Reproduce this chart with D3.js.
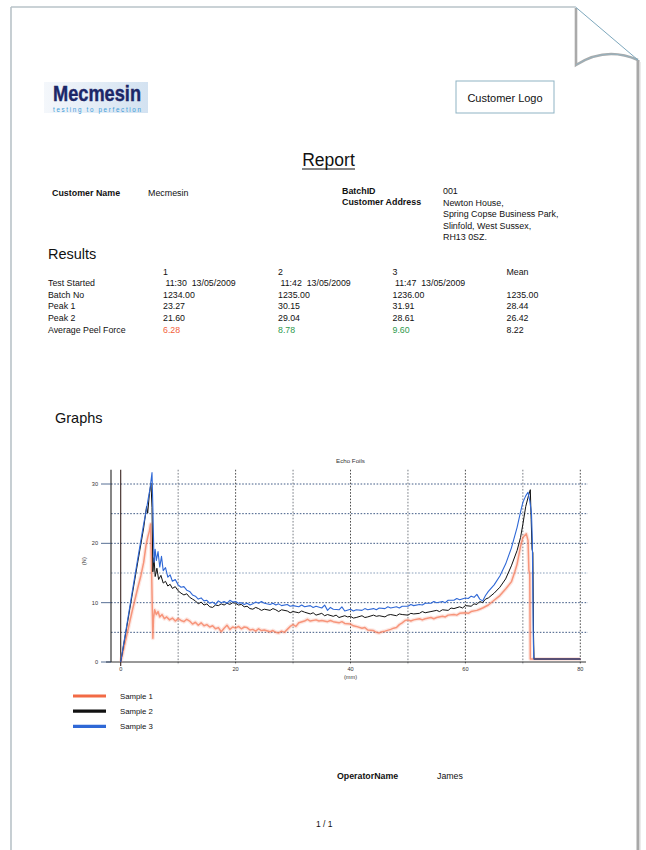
<!DOCTYPE html>
<html><head><meta charset="utf-8">
<script src="https://cdn.jsdelivr.net/npm/d3@7"></script>
<style>body{margin:0;background:#fff}svg{display:block}text{font-family:"Liberation Sans",Arial,Helvetica,sans-serif}</style>
</head><body>
<script>
// ---------- DATA ----------
const chartTitle = "Echo Foils";
const xTicks = [0, 20, 40, 60, 80];
const xGrid = [10, 20, 30, 40, 50, 60, 70, 80];
const yTicks = [0, 10, 20, 30];
const yGrid = [5, 10, 15, 20, 25, 30];
const seriesNames = ["Sample 1", "Sample 2", "Sample 3"];
const seriesColors = ["#f26a45", "#111111", "#2f68d6"];

const sample1 = [[0,0],[1,4.3],[2,8.6],[3,12.6],[3.5,14.5],[4,16.8],[4.4,19.6],[4.7,21.0],[5.0,22.1],[5.2,23.27],[5.35,17],[5.5,9],[5.6,4.0],[5.7,7.2],[5.9,8.8],[6.2,8.0],[6.5,8.5],[6.8,7.6],[7.2,8.0],[7.6,7.3],[8,7.6],[8.5,7.1],[9,7.4],[9.5,6.9],[10,7.3],[10.5,7.0],[11,6.8],[11.5,7.2],[12,6.9],[12.5,6.4],[13,6.7],[13.5,6.2],[14,6.6],[14.5,6.1],[15,6.3],[15.5,5.9],[16,6.1],[16.5,5.6],[17,5.8],[17.5,5.1],[18,5.7],[18.5,6.2],[19,5.5],[19.5,5.9],[20,5.7],[20.5,6.0],[21,5.6],[21.5,5.9],[22,5.8],[22.5,5.4],[23,5.5],[23.5,5.2],[24,5.6],[24.5,5.3],[25,5.4],[26,5.1],[26.5,5.3],[27,5.0],[27.5,4.9],[28,5.2],[28.5,5.0],[29,5.5],[29.5,6.0],[30,6.3],[30.5,6.0],[31,6.6],[32,6.9],[32.5,7.2],[33,6.9],[34,7.1],[34.5,6.9],[35,7.0],[36,6.8],[36.5,7.0],[37,6.8],[38,6.6],[38.5,6.8],[39,6.5],[40,6.4],[40.5,6.1],[41,6.0],[42,5.7],[42.5,5.8],[43,5.4],[44,5.3],[44.5,5.0],[45,4.9],[45.5,5.1],[46,5.2],[47,5.5],[47.5,5.7],[48,5.8],[48.5,6.3],[49,6.6],[49.5,7.0],[50,7.1],[50.5,6.9],[51,7.1],[52,7.3],[52.5,7.1],[53,7.3],[54,7.5],[54.5,7.3],[55,7.5],[56,7.7],[56.5,7.6],[57,7.9],[58,8.0],[58.5,7.9],[59,8.2],[60,8.3],[60.5,8.2],[61,8.5],[62,8.7],[62.5,8.9],[63,9.1],[64,9.6],[65,10.4],[66,11.2],[67,12.3],[68,13.5],[68.6,15.2],[69,16.5],[69.6,19.5],[70,21.0],[70.6,21.6],[70.9,20.5],[71.05,15.5],[71.2,14.8],[71.3,0.5],[80,0.5]];

const sample2 = [[0,0],[1,5.6],[2,11.3],[3,17.0],[4,22.6],[4.5,26.2],[4.7,25.1],[5.0,28.4],[5.27,30.15],[5.45,26],[5.6,15.2],[5.8,17.6],[6.0,14.4],[6.3,15.8],[6.6,13.9],[7.0,14.6],[7.4,13.3],[7.8,13.6],[8.2,12.8],[8.6,13.1],[9,12.4],[9.5,12.7],[10,12.0],[10.5,11.6],[11,11.3],[11.5,11.5],[12,10.9],[12.5,10.6],[13,10.3],[13.5,9.8],[14,10.1],[14.5,9.6],[15,9.8],[15.5,9.3],[16,9.2],[16.5,9.6],[17,9.5],[17.5,9.8],[18,9.6],[18.5,9.9],[19,9.7],[19.5,10.0],[20,9.9],[20.5,9.6],[21,9.7],[21.5,9.3],[22,9.4],[22.5,9.0],[23,8.9],[23.5,9.2],[24,9.0],[24.5,8.7],[25,8.9],[26,8.7],[26.5,9.0],[27,8.8],[27.5,8.5],[28,8.8],[29,8.6],[29.5,8.3],[30,8.5],[31,8.3],[31.5,8.6],[32,8.4],[33,8.1],[33.5,8.3],[34,7.9],[35,8.2],[35.5,7.8],[36,8.0],[37,7.7],[37.5,7.9],[38,7.5],[39,7.8],[39.5,7.6],[40,7.7],[40.5,7.4],[41,7.5],[42,7.8],[42.5,7.5],[43,7.6],[44,7.9],[44.5,7.7],[45,7.8],[46,7.6],[46.5,7.9],[47,8.0],[48,7.8],[48.5,8.1],[49,8.0],[50,7.9],[50.5,8.2],[51,8.1],[52,8.2],[52.5,8.5],[53,8.3],[54,8.5],[55,8.7],[55.5,8.5],[56,8.8],[57,8.7],[57.5,9.1],[58,9.0],[59,9.3],[59.5,9.1],[60,9.5],[61,9.4],[61.5,9.8],[62,9.7],[62.5,10.2],[63,10.0],[63.5,10.6],[64,10.8],[65,11.6],[66,12.6],[67,14.0],[68,16.2],[69,18.8],[69.6,21],[70,23.2],[70.5,26.2],[71.0,28.1],[71.3,29.04],[71.45,24],[71.6,19.0],[71.75,18.4],[71.85,5],[71.95,0.5],[80,0.5]];

const sample3 = [[0,0],[1,5.9],[2,11.8],[3,17.6],[4,23.3],[4.5,25.8],[4.8,27.6],[5.1,29.2],[5.45,31.91],[5.6,26],[5.8,16.8],[6.0,19.0],[6.2,17.1],[6.5,18.6],[6.8,16.0],[7.1,17.8],[7.4,15.4],[7.8,15.9],[8.2,14.3],[8.6,14.7],[9,13.6],[9.5,13.9],[10,13.0],[10.5,12.6],[11,12.7],[11.5,12.1],[12,11.9],[12.5,11.3],[13,11.1],[13.5,10.6],[14,10.8],[14.5,10.3],[15,10.4],[15.5,9.9],[16,10.1],[16.5,9.7],[17,10.3],[17.5,10.0],[18,10.2],[18.5,9.9],[19,10.4],[19.5,10.1],[20,10.2],[20.5,9.9],[21,10.0],[21.5,9.7],[22,9.9],[22.5,9.6],[23,9.8],[23.5,10.1],[24,9.9],[24.5,10.2],[25,9.9],[26,9.7],[26.5,9.9],[27,9.6],[27.5,9.8],[28,9.5],[29,9.7],[29.5,9.4],[30,9.5],[31,9.3],[31.5,9.6],[32,9.3],[33,9.5],[33.5,9.2],[34,9.4],[35,9.1],[35.5,9.6],[36,8.7],[36.5,9.2],[37,8.9],[38,8.8],[38.5,9.3],[39,8.6],[40,8.9],[40.5,8.6],[41,8.8],[42,8.7],[42.5,9.0],[43,8.8],[44,9.0],[44.5,8.8],[45,9.1],[46,9.0],[46.5,9.3],[47,9.1],[48,9.3],[48.5,9.1],[49,9.4],[50,9.4],[50.5,9.7],[51,9.5],[52,9.7],[52.5,9.6],[53,9.9],[54,9.9],[54.5,10.2],[55,10.0],[56,10.2],[56.5,10.0],[57,10.4],[58,10.4],[58.5,10.7],[59,10.5],[60,10.8],[60.5,10.7],[61,11.1],[61.5,10.9],[62,11.4],[62.5,10.6],[63,10.3],[63.5,11.2],[64,11.9],[65,13.0],[66,14.5],[67,16.5],[68,19.2],[69,22.7],[69.6,25.3],[70,26.9],[70.5,28.0],[70.9,28.61],[71.2,27.2],[71.5,25.1],[71.65,20.5],[71.8,5],[71.9,0.5],[80,0.5]];

// Results table
const resultCols = ["1", "2", "3", "Mean"];
const rowLabels = ["Test Started", "Batch No", "Peak 1", "Peak 2", "Average Peel Force"];
const testStarted = [" 11:30  13/05/2009", " 11:42  13/05/2009", " 11:47  13/05/2009", ""];
const batchNo = ["1234.00", "1235.00", "1236.00", "1235.00"];
const peak1 = ["23.27", "30.15", "31.91", "28.44"];
const peak2 = ["21.60", "29.04", "28.61", "26.42"];
const avgPeel = ["6.28", "8.78", "9.60", "8.22"];
const avgPeelColors = ["#f2623c", "#2e9a4e", "#2e9a4e", "#111"];
const addressLines = ["Newton House,", "Spring Copse Business Park,", "Slinfold, West Sussex,", "RH13 0SZ."];

// ---------- DRAW ----------
const W = 646, H = 850;
const svg = d3.select("body").append("svg").attr("width", W).attr("height", H);

// page
const defs = svg.append("defs");
const lg = defs.append("linearGradient").attr("id","logoGrad").attr("x1","0").attr("x2","1").attr("y1","0").attr("y2","0");
lg.append("stop").attr("offset","0").attr("stop-color","#f4f7fb");
lg.append("stop").attr("offset","1").attr("stop-color","#d3e2f1");
svg.append("path").attr("d","M11,7 L575.5,7 M11,7 L11,850").attr("stroke","#b9c3c9").attr("stroke-width",1.6).attr("fill","none");
svg.append("path").attr("d","M638,60 L638,850").attr("stroke","#a8a8a8").attr("stroke-width",3).attr("fill","none");
svg.append("path").attr("d","M640,62 L640,850").attr("stroke","#dddddd").attr("stroke-width",1.2).attr("fill","none");
// folded corner
svg.append("path").attr("d","M576,7 L638,60 Q610,46 577,65 Z").attr("fill","#fff").attr("stroke","none");
svg.append("path").attr("d","M576,8 L576,65 Q606,46 638,60").attr("stroke","#aaaaaa").attr("stroke-width",2.6).attr("fill","none");
svg.append("path").attr("d","M576,65 Q606,46 638,60").attr("stroke","#8fb4c4").attr("stroke-width",0.8).attr("fill","none");
svg.append("path").attr("d","M575.5,7 L638,60").attr("stroke","#7ea8bd").attr("stroke-width",1).attr("fill","none");

// Logo
svg.append("rect").attr("x",44).attr("y",82).attr("width",104).attr("height",31).attr("fill","url(#logoGrad)");
svg.append("text").attr("x",53).attr("y",101).attr("font-size",21.5).attr("font-weight","bold")
  .attr("font-family",'"Liberation Sans Narrow","Arial Narrow","Liberation Sans",Arial,sans-serif')
  .attr("textLength",88).attr("lengthAdjust","spacingAndGlyphs").attr("fill","#1c2768")
  .attr("stroke","#1c2768").attr("stroke-width",0.4).text("Mecmesin");
svg.append("text").attr("x",53).attr("y",112).attr("font-size",6.3).attr("textLength",88).attr("lengthAdjust","spacing")
  .attr("fill","#3a9bd8").text("testing to perfection");

// Customer logo box
svg.append("rect").attr("x",456).attr("y",81).attr("width",98).attr("height",32).attr("fill","#fff").attr("stroke","#8fb3c4").attr("stroke-width",1);
svg.append("text").attr("x",505).attr("y",102).attr("text-anchor","middle").attr("font-size",11).attr("fill","#111").text("Customer Logo");

// Report title
svg.append("text").attr("x",328.5).attr("y",166).attr("text-anchor","middle").attr("font-size",17.5).attr("fill","#111").text("Report");
svg.append("line").attr("x1",302).attr("x2",355).attr("y1",169).attr("y2",169).attr("stroke","#111").attr("stroke-width",1.1);

// Header info
const hdr = svg.append("g").attr("font-size",8.9).attr("fill","#111");
hdr.append("text").attr("x",52).attr("y",196).attr("font-weight","bold").text("Customer Name");
hdr.append("text").attr("x",148).attr("y",196).text("Mecmesin");
hdr.append("text").attr("x",342).attr("y",193.5).attr("font-weight","bold").text("BatchID");
hdr.append("text").attr("x",443).attr("y",193.5).text("001");
hdr.append("text").attr("x",342).attr("y",205).attr("font-weight","bold").text("Customer Address");
addressLines.forEach((t,i)=>hdr.append("text").attr("x",443).attr("y",205.5+i*11.5).text(t));

// Results
svg.append("text").attr("x",48).attr("y",259).attr("font-size",14.5).attr("fill","#111").text("Results");
const tbl = svg.append("g").attr("font-size",8.8).attr("fill","#111");
const colX = [163, 278, 392.5, 506.5];
const rowY0 = 274.5, rowH = 11.6;
resultCols.forEach((c,i)=>tbl.append("text").attr("x",colX[i]).attr("y",rowY0).text(c));
rowLabels.forEach((r,i)=>tbl.append("text").attr("x",48).attr("y",rowY0+(i+1)*rowH).text(r));
const rows = [testStarted, batchNo, peak1, peak2, avgPeel];
rows.forEach((vals,ri)=>{
  vals.forEach((v,ci)=>{
    const t = tbl.append("text").attr("x",colX[ci]).attr("y",rowY0+(ri+1)*rowH).attr("xml:space","preserve").style("white-space","pre").text(v);
    if (ri===4) t.attr("fill",avgPeelColors[ci]);
  });
});

// Graphs
svg.append("text").attr("x",55).attr("y",423).attr("font-size",14.5).attr("fill","#111").text("Graphs");

// Chart
const x = d3.scaleLinear().domain([0,80]).range([120.7,580.3]);
const y = d3.scaleLinear().domain([0,30]).range([662,484]);
const yTop = y(32.4);
const ch = svg.append("g");
ch.append("text").attr("x",x(40)).attr("y",462.5).attr("text-anchor","middle").attr("font-size",6.2).attr("fill","#333").text(chartTitle);

// horizontal grid
ch.selectAll(".hg").data(yGrid).join("line")
  .attr("x1",111).attr("x2",588).attr("y1",d=>y(d)).attr("y2",d=>y(d))
  .attr("stroke",d=>d===15?"#7d95b3":"#2c4a78").attr("stroke-width",0.9).attr("stroke-dasharray","1.6,1.6");
// vertical grid
ch.selectAll(".vg").data(xGrid).join("line")
  .attr("x1",d=>x(d)).attr("x2",d=>x(d)).attr("y1",yTop).attr("y2",665)
  .attr("stroke",d=>d%20===10?"#6a6f78":"#3a3a3a").attr("stroke-width",0.9).attr("stroke-dasharray","1.6,1.6");
// axes
ch.append("line").attr("x1",111).attr("x2",111).attr("y1",yTop).attr("y2",662).attr("stroke","#222").attr("stroke-width",1.1);
ch.append("line").attr("x1",x(0)).attr("x2",x(0)).attr("y1",yTop).attr("y2",666).attr("stroke","#3a2522").attr("stroke-width",1.1);
ch.append("line").attr("x1",106).attr("x2",586).attr("y1",y(0)).attr("y2",y(0)).attr("stroke","#333").attr("stroke-width",1);
ch.selectAll(".yt").data(yTicks).join("line").attr("x1",101).attr("x2",111).attr("y1",d=>y(d)).attr("y2",d=>y(d)).attr("stroke","#2c4a78").attr("stroke-width",0.8);
ch.selectAll(".ytl").data(yTicks).join("text").attr("x",98).attr("y",d=>y(d)+2).attr("text-anchor","end")
  .attr("font-size",5.6).attr("fill","#333").text(d=>d);
ch.selectAll(".xtl").data(xTicks).join("text").attr("x",d=>x(d)).attr("y",671).attr("text-anchor","middle")
  .attr("font-size",5.6).attr("fill","#333").text(d=>d);
ch.append("text").attr("x",x(40)).attr("y",678.5).attr("text-anchor","middle").attr("font-size",5.6).attr("fill","#333").text("(mm)");
ch.append("text").attr("transform",`translate(86,${y(17)}) rotate(-90)`).attr("text-anchor","middle").attr("font-size",5.6).attr("fill","#333").text("(N)");

// series
const line = d3.line().x(d=>x(d[0])).y(d=>y(d[1]));
ch.append("path").datum(sample1).attr("d",line).attr("fill","none").attr("stroke","#f7a08a").attr("stroke-opacity",0.25).attr("stroke-width",4).attr("stroke-linejoin","round");
ch.append("path").datum(sample1).attr("d",line).attr("fill","none").attr("stroke","#f47a58").attr("stroke-opacity",0.75).attr("stroke-width",1.5).attr("stroke-linejoin","round");
ch.append("path").datum(sample2).attr("d",line).attr("fill","none").attr("stroke",seriesColors[1]).attr("stroke-width",1.0).attr("stroke-linejoin","round");
ch.append("path").datum(sample3).attr("d",line).attr("fill","none").attr("stroke",seriesColors[2]).attr("stroke-width",1.1).attr("stroke-linejoin","round");
// flat end overlap tint
ch.append("path").datum(sample3.filter(d=>d[0]>=71.9)).attr("d",line).attr("fill","none").attr("stroke","#5a4a6a").attr("stroke-width",1.6);

// Legend
const leg = svg.append("g");
seriesNames.forEach((n,i)=>{
  leg.append("line").attr("x1",73).attr("x2",106).attr("y1",696+i*15.2).attr("y2",696+i*15.2)
    .attr("stroke",seriesColors[i]).attr("stroke-width",3.2);
  leg.append("text").attr("x",120).attr("y",698.8+i*15.2).attr("font-size",7.8).attr("fill","#111").text(n);
});

// Footer
svg.append("text").attr("x",337).attr("y",779).attr("font-size",8.8).attr("font-weight","bold").attr("fill","#111").text("OperatorName");
svg.append("text").attr("x",437).attr("y",779).attr("font-size",8.8).attr("fill","#111").text("James");
svg.append("text").attr("x",316).attr("y",827).attr("font-size",8.5).attr("fill","#111").text("1 / 1");
</script>
</body></html>
